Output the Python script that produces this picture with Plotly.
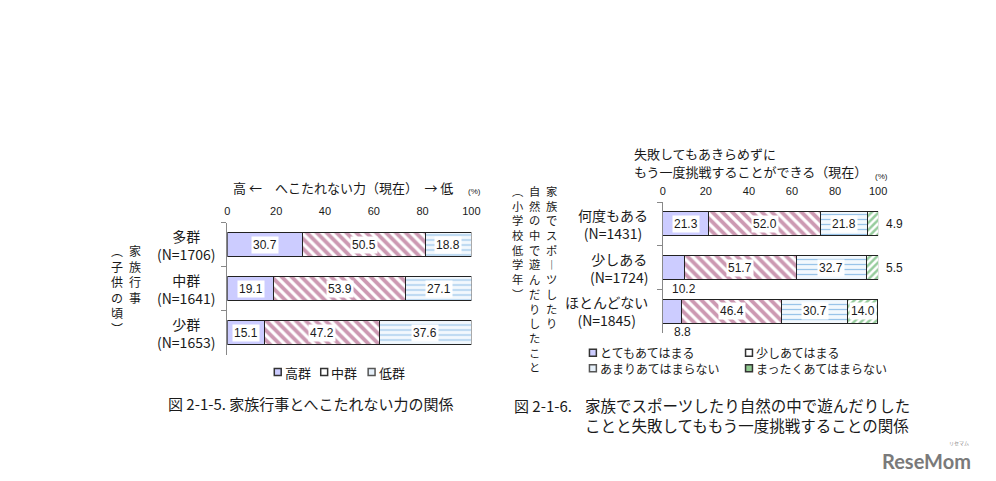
import plotly.graph_objects as go

W, H = 996, 481
OFF = 8  # page body margin offset

# ---------------- data ----------------
c1_categories = ["多群", "中群", "少群"]
c1_ns = ["(N=1706)", "(N=1641)", "(N=1653)"]
c1_series = ["高群", "中群", "低群"]
c1_high = [30.7, 19.1, 15.1]
c1_mid = [50.5, 53.9, 47.2]
c1_low = [18.8, 27.1, 37.6]

c2_categories = ["何度もある", "少しある", "ほとんどない"]
c2_ns = ["(N=1431)", "(N=1724)", "(N=1845)"]
c2_series = ["とてもあてはまる", "少しあてはまる", "あまりあてはまらない", "まったくあてはまらない"]
c2_s1 = [21.3, 10.2, 8.8]
c2_s2 = [52.0, 51.7, 46.4]
c2_s3 = [21.8, 32.7, 30.7]
c2_s4 = [4.9, 5.5, 14.0]

x_ticks = [0, 20, 40, 60, 80, 100]

# ---------------- styles ----------------
JP = "Noto Sans CJK JP"
NUM = "Liberation Sans"
TXT = "#1a1a1a"
LAV = "#ccccff"
MAROON = "#993366"
BLUE = "#3f8fd6"
GREEN = "#2f9a3c"


def px(x):
    return (x - OFF) / W


def py(y):
    return 1 - (y - OFF) / H


def ann(**kw):
    base = dict(showarrow=False, xanchor="center", yanchor="middle")
    base.update(kw)
    return base


styles = [
    dict(color=LAV, pattern=dict(shape="")),
    dict(color="white", pattern=dict(shape="\\", fgcolor=MAROON, size=7, solidity=0.55)),
    dict(color="#f2f8fd", pattern=dict(shape="-", fgcolor=BLUE, size=5, solidity=0.25)),
    dict(color="white", pattern=dict(shape="/", fgcolor=GREEN, size=5, solidity=0.5)),
]

fig = go.Figure()

annotations = []
shapes = []


def add_chart(cats, series_names, values, xa, ya, label_rule):
    for i, (name, vals) in enumerate(zip(series_names, values)):
        st = styles[i]
        fig.add_trace(go.Bar(
            y=cats, x=vals, name=name, orientation="h",
            marker=dict(color=st["color"], pattern=st["pattern"],
                        line=dict(color="#222222", width=1)),
            xaxis=xa, yaxis=ya, showlegend=False, hoverinfo="x+y+name",
        ))
    n_series = len(values)
    for j, cat in enumerate(cats):
        start = 0.0
        for i in range(n_series):
            v = values[i][j]
            mid = start + v / 2
            kind = label_rule(i, n_series, v)
            a = ann(xref=xa, yref=ya, y=cat, text=f"{v:.1f}",
                    font=dict(family=NUM, size=12, color=TXT))
            if kind == "inside":
                a.update(x=mid, bgcolor="white", borderpad=1)
            elif kind == "below":
                a.update(x=mid, xshift=10, yshift=-21)
            elif kind == "right":
                a.update(x=100, xanchor="left", xshift=6)
            annotations.append(a)
            start += v


def rule1(i, n, v):
    return "inside"


def rule2(i, n, v):
    if i == 0 and v < 11:
        return "below"
    if i == n - 1 and v < 10:
        return "right"
    return "inside"


add_chart(c1_categories, c1_series, [c1_high, c1_mid, c1_low], "x", "y", rule1)
add_chart(c2_categories, c2_series, [c2_s1, c2_s2, c2_s3, c2_s4], "x2", "y2", rule2)

# category labels (two lines, centered, block right-aligned)
for cats, ns, xr, ya in [(c1_categories, c1_ns, 217, "y"), (c2_categories, c2_ns, 655, "y2")]:
    for cat, n in zip(cats, ns):
        annotations.append(ann(xref="paper", yref=ya, x=px(xr), y=cat, xanchor="right",
                               align="center", text=f"{cat}<br>{n}",
                               font=dict(family=JP, size=14, color=TXT)))


# vertical (tategaki) titles: one character per line
def vertical(text, xc, ytop, size):
    annotations.append(ann(xref="paper", yref="paper", x=px(xc), y=py(ytop), yanchor="top",
                           align="center", text="<br>".join(text),
                           font=dict(family=JP, size=size, color=TXT)))


vertical("家族行事", 134, 240, 12)
vertical("︵子供の頃︶", 115, 240, 12)
vertical("家族でスポ︱ツしたり", 555, 181, 11.3)
vertical("自然の中で遊んだりしたこと", 538, 181, 11.3)
vertical("︵小学校低学年︶", 521, 181, 11.3)

# chart titles
annotations += [
    ann(xref="paper", yref="paper", x=px(344), y=py(187), text="高 ←　へこたれない力（現在）　→ 低",
        font=dict(family=JP, size=13, color=TXT)),
    ann(xref="paper", yref="paper", x=px(477), y=py(191), text="(%)",
        font=dict(family=NUM, size=8, color=TXT)),
    ann(xref="paper", yref="paper", x=px(637), y=py(153.5), xanchor="left",
        text="失敗してもあきらめずに", font=dict(family=JP, size=13, color=TXT)),
    ann(xref="paper", yref="paper", x=px(637), y=py(171.5), xanchor="left",
        text="もう一度挑戦することができる（現在）", font=dict(family=JP, size=13, color=TXT)),
    ann(xref="paper", yref="paper", x=px(889), y=py(176), text="(%)",
        font=dict(family=NUM, size=8, color=TXT)),
]

# captions
annotations += [
    ann(xref="paper", yref="paper", x=px(165), y=py(403), xanchor="left",
        text="図 2-1-5. 家族行事とへこたれない力の関係",
        font=dict(family=JP, size=15, color=TXT)),
    ann(xref="paper", yref="paper", x=px(515), y=py(405), xanchor="left",
        text="図 2-1-6.", font=dict(family=JP, size=15, color=TXT)),
    ann(xref="paper", yref="paper", x=px(587), y=py(414.5), xanchor="left", align="left",
        text="家族でスポーツしたり自然の中で遊んだりした<br>ことと失敗してももう一度挑戦することの関係",
        font=dict(family=JP, size=15.5, color=TXT)),
]

# logo
annotations += [
    ann(xref="paper", yref="paper", x=px(935), y=py(461), text="<b>ReseMom</b>",
        font=dict(family="Lato", size=20, color="#7a7a7a")),
    ann(xref="paper", yref="paper", x=px(968), y=py(443), text="リセマム",
        font=dict(family=JP, size=5, color="#8a8a8a")),
]

# legends (drawn manually for compact spacing)
legend_fill = [LAV, "white", "#e6f0fa", "#8fc98f"]
legend_line = ["#333333", "#333333", "#555555", "#333333"]


def legend_box(idx, xc, yc):
    s = 3.5
    shapes.append(dict(type="rect", xref="paper", yref="paper",
                       x0=px(xc - s), x1=px(xc + s), y0=py(yc + s), y1=py(yc - s),
                       fillcolor=legend_fill[idx], line=dict(color=legend_line[idx], width=1.5)))


# chart 1 legend: one row
for idx, (name, xc) in enumerate(zip(c1_series, [278, 325, 373])):
    legend_box(idx, xc, 372)
    annotations.append(ann(xref="paper", yref="paper", x=px(xc + 5), y=py(372), xanchor="left",
                           text=name, font=dict(family=JP, size=13, color=TXT)))

# chart 2 legend: two columns x two rows
LEG2_SIZE = 12
row_gap = LEG2_SIZE * 1.3
leg2_mid = 360.5
for col, xc in enumerate([597, 755]):
    names = [c2_series[col], c2_series[col + 2]]
    for r in range(2):
        legend_box(col + 2 * r, xc, leg2_mid + (r - 0.5) * row_gap)
    annotations.append(ann(xref="paper", yref="paper", x=px(xc + 5), y=py(leg2_mid),
                           xanchor="left", align="left", text="<br>".join(names),
                           font=dict(family=JP, size=LEG2_SIZE, color=TXT)))

axis_x = dict(range=[0, 100], side="top", tickvals=x_ticks, showgrid=False, zeroline=False,
              showline=False, ticks="outside", ticklen=2, tickcolor="rgba(0,0,0,0)",
              tickfont=dict(family=NUM, size=11, color=TXT), fixedrange=True)
axis_y = dict(autorange="reversed", showticklabels=False, tickson="boundaries", ticks="outside",
              ticklen=5, tickcolor="#888888", showline=True, linecolor="#888888", linewidth=1,
              showgrid=False, zeroline=False, fixedrange=True)

fig.update_layout(
    width=W, height=H, margin=dict(l=0, r=0, t=0, b=0),
    paper_bgcolor="white", plot_bgcolor="white",
    barmode="stack", bargap=0.45, showlegend=False,
    xaxis=dict(axis_x, domain=[px(227), px(474)], anchor="y"),
    yaxis=dict(axis_y, domain=[py(354.5), py(222.5)], anchor="x"),
    xaxis2=dict(axis_x, domain=[px(667.7), px(885.7)], anchor="y2"),
    yaxis2=dict(axis_y, domain=[py(333), py(202)], anchor="x2"),
    annotations=annotations, shapes=shapes,
)

fig.write_html("out.html")
